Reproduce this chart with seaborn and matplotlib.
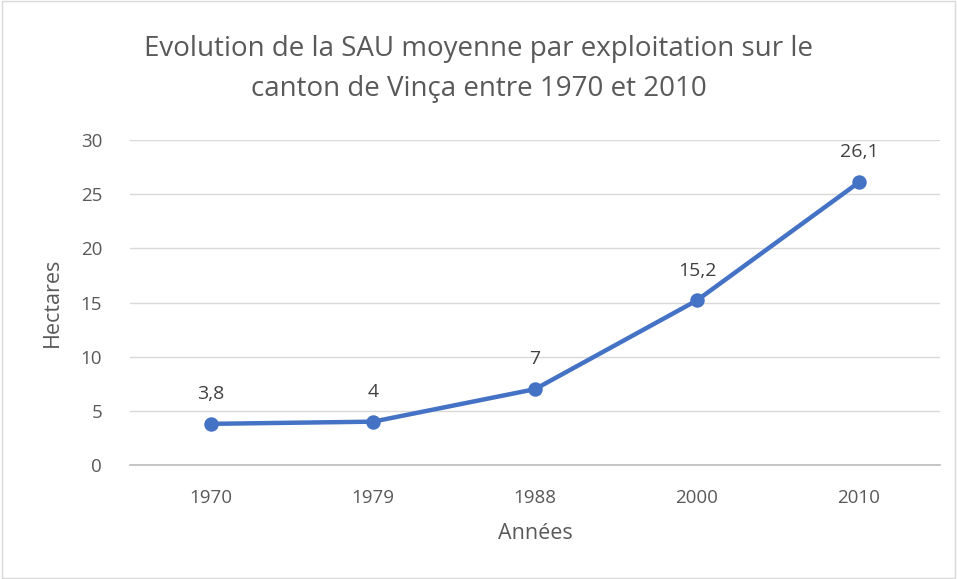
import pandas as pd
import matplotlib.pyplot as plt
import seaborn as sns

annees = ["1970", "1979", "1988", "2000", "2010"]
sau = [3.8, 4, 7, 15.2, 26.1]
etiquettes = ["3,8", "4", "7", "15,2", "26,1"]

df = pd.DataFrame({"Années": annees, "Hectares": sau})

sns.set_theme(style="white")
plt.rcParams["font.family"] = ["Open Sans", "DejaVu Sans"]

gris = "#595959"
bleu = "#4472C4"

fig = plt.figure(figsize=(9.57, 5.79), dpi=100)
ax = fig.add_axes([130 / 957, 1 - 465 / 579, 810 / 957, 325 / 579])

sns.pointplot(data=df, x="Années", y="Hectares", color=bleu, ax=ax,
              markersize=8, linewidth=3.2)

for i, (v, t) in enumerate(zip(sau, etiquettes)):
    ax.annotate(t, (i, v), xytext=(0, 15), textcoords="offset points",
                ha="center", va="bottom", fontsize=14, color="#404040")

ax.set_xlim(-0.5, 4.5)
ax.set_ylim(0, 30)
ax.set_yticks(range(0, 31, 5))
ax.yaxis.grid(True, color="#D9D9D9", linewidth=1)
ax.set_axisbelow(True)
for s in ["top", "right", "left"]:
    ax.spines[s].set_visible(False)
ax.spines["bottom"].set_color("#BFBFBF")
ax.tick_params(axis="x", length=0, labelsize=13.5, labelcolor=gris, pad=17)
ax.tick_params(axis="y", length=0, labelsize=13.5, labelcolor=gris, pad=20)

ax.set_xlabel("Années", fontsize=15.5, color=gris, labelpad=12)
ax.set_ylabel("Hectares", fontsize=15.5, color=gris, labelpad=13)
fig.text(0.5, 1 - 69 / 579,
         "Evolution de la SAU moyenne par exploitation sur le\ncanton de Vinça entre 1970 et 2010",
         ha="center", va="center", fontsize=20, color=gris, linespacing=1.6)

fig.patches.append(plt.Rectangle((0.002, 0.002), 0.996, 0.996, transform=fig.transFigure,
                                 fill=False, edgecolor="#D9D9D9", linewidth=1))

fig.savefig("out.png", dpi=100)
